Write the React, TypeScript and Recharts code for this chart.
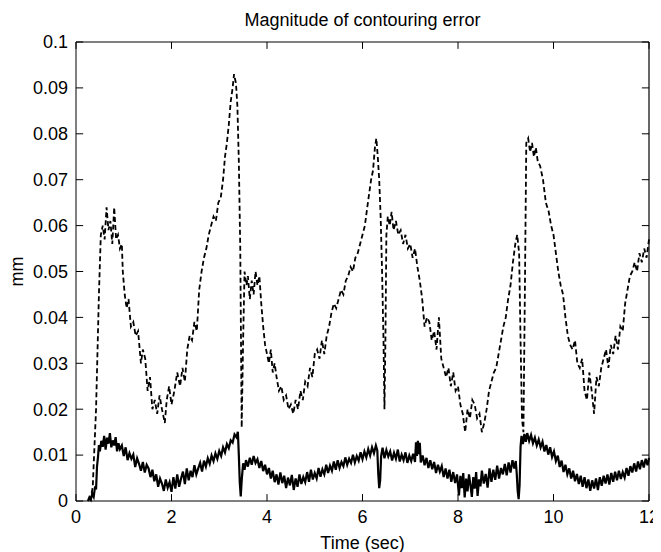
import { LineChart, Line, XAxis, YAxis, ReferenceLine } from "recharts";

// time (sec) -> contouring error (mm)
const dashedTrace: [number, number][] = [
  [0.3, 0], [0.35, 0.003], [0.42, 0.02], [0.48, 0.045], [0.52, 0.058], [0.56, 0.06], [0.6, 0.057], [0.64, 0.064],
  [0.68, 0.059], [0.72, 0.061], [0.76, 0.056], [0.8, 0.064], [0.84, 0.057], [0.88, 0.058], [0.92, 0.055], [0.96, 0.056],
  [0.98, 0.05], [1.02, 0.045], [1.06, 0.042], [1.1, 0.044], [1.15, 0.038], [1.2, 0.039], [1.25, 0.036], [1.3, 0.037],
  [1.36, 0.03], [1.4, 0.033], [1.45, 0.031], [1.5, 0.024], [1.55, 0.027], [1.6, 0.02], [1.65, 0.022], [1.7, 0.019],
  [1.75, 0.023], [1.8, 0.02], [1.86, 0.017], [1.9, 0.022], [1.95, 0.025], [2.0, 0.021], [2.06, 0.024], [2.12, 0.028],
  [2.18, 0.025], [2.23, 0.029], [2.28, 0.026], [2.33, 0.033], [2.38, 0.036], [2.43, 0.035], [2.48, 0.039], [2.53, 0.037],
  [2.58, 0.046], [2.63, 0.05], [2.68, 0.053], [2.73, 0.055], [2.78, 0.058], [2.83, 0.06], [2.88, 0.062], [2.93, 0.061],
  [2.98, 0.065], [3.03, 0.066], [3.08, 0.07], [3.12, 0.075], [3.16, 0.078], [3.2, 0.082], [3.24, 0.087], [3.28, 0.09],
  [3.31, 0.093], [3.35, 0.091], [3.38, 0.086], [3.41, 0.074], [3.44, 0.055], [3.47, 0.016], [3.5, 0.035], [3.53, 0.05],
  [3.57, 0.047], [3.6, 0.049], [3.64, 0.044], [3.68, 0.048], [3.72, 0.045], [3.76, 0.05], [3.8, 0.047], [3.84, 0.049],
  [3.88, 0.043], [3.92, 0.038], [3.96, 0.034], [4.0, 0.032], [4.04, 0.03], [4.08, 0.033], [4.12, 0.028], [4.16, 0.03],
  [4.2, 0.027], [4.25, 0.024], [4.3, 0.025], [4.35, 0.022], [4.4, 0.023], [4.45, 0.02], [4.5, 0.021], [4.55, 0.019],
  [4.6, 0.022], [4.65, 0.02], [4.7, 0.024], [4.75, 0.022], [4.8, 0.026], [4.85, 0.025], [4.9, 0.029], [4.95, 0.027],
  [5.0, 0.032], [5.05, 0.033], [5.1, 0.031], [5.15, 0.035], [5.2, 0.032], [5.25, 0.036], [5.3, 0.038], [5.35, 0.041],
  [5.4, 0.043], [5.45, 0.042], [5.5, 0.044], [5.55, 0.046], [5.6, 0.045], [5.65, 0.048], [5.7, 0.049], [5.75, 0.051],
  [5.8, 0.05], [5.85, 0.053], [5.9, 0.054], [5.95, 0.056], [6.0, 0.058], [6.05, 0.06], [6.1, 0.064], [6.14, 0.067],
  [6.18, 0.07], [6.22, 0.072], [6.26, 0.077], [6.29, 0.079], [6.32, 0.075], [6.35, 0.07], [6.38, 0.062], [6.41, 0.05],
  [6.44, 0.035], [6.46, 0.02], [6.48, 0.035], [6.5, 0.058], [6.53, 0.062], [6.57, 0.06], [6.61, 0.063], [6.65, 0.059],
  [6.7, 0.061], [6.75, 0.058], [6.8, 0.059], [6.85, 0.056], [6.9, 0.058], [6.95, 0.055], [7.0, 0.056], [7.05, 0.053],
  [7.1, 0.055], [7.15, 0.051], [7.2, 0.048], [7.25, 0.044], [7.3, 0.038], [7.35, 0.04], [7.4, 0.039], [7.45, 0.035],
  [7.5, 0.037], [7.55, 0.033], [7.6, 0.04], [7.65, 0.031], [7.7, 0.029], [7.75, 0.027], [7.8, 0.029], [7.85, 0.025],
  [7.9, 0.028], [7.95, 0.024], [8.0, 0.025], [8.05, 0.021], [8.1, 0.019], [8.15, 0.015], [8.2, 0.02], [8.25, 0.018],
  [8.3, 0.022], [8.35, 0.021], [8.4, 0.018], [8.45, 0.019], [8.5, 0.015], [8.55, 0.017], [8.6, 0.02], [8.65, 0.024],
  [8.7, 0.026], [8.75, 0.028], [8.8, 0.029], [8.85, 0.032], [8.9, 0.035], [8.95, 0.038], [9.0, 0.04], [9.05, 0.044],
  [9.1, 0.047], [9.15, 0.052], [9.2, 0.056], [9.24, 0.058], [9.28, 0.054], [9.31, 0.035], [9.34, 0.018], [9.37, 0.015],
  [9.4, 0.045], [9.43, 0.078], [9.47, 0.079], [9.51, 0.076], [9.55, 0.078], [9.59, 0.075], [9.63, 0.077], [9.67, 0.074],
  [9.72, 0.073], [9.78, 0.07], [9.84, 0.065], [9.9, 0.063], [9.95, 0.06], [10.0, 0.058], [10.05, 0.054], [10.1, 0.05],
  [10.15, 0.047], [10.2, 0.045], [10.25, 0.04], [10.3, 0.036], [10.35, 0.034], [10.4, 0.033], [10.45, 0.035], [10.5, 0.03],
  [10.55, 0.029], [10.6, 0.031], [10.65, 0.024], [10.7, 0.022], [10.75, 0.028], [10.8, 0.024], [10.85, 0.019], [10.9, 0.027],
  [10.95, 0.025], [11.0, 0.029], [11.05, 0.031], [11.1, 0.033], [11.15, 0.029], [11.2, 0.034], [11.25, 0.032], [11.3, 0.036],
  [11.35, 0.033], [11.4, 0.038], [11.45, 0.037], [11.5, 0.043], [11.55, 0.046], [11.6, 0.049], [11.65, 0.05], [11.7, 0.052],
  [11.75, 0.05], [11.8, 0.054], [11.85, 0.052], [11.9, 0.055], [11.95, 0.053], [12.0, 0.057],
];

const solidTrace: [number, number][] = [
  [0.25, 0], [0.28, 0.0008], [0.31, 0.0003], [0.34, 0.0016], [0.37, 0.0009], [0.4, 0.0032], [0.42, 0.0025], [0.44, 0.0075],
  [0.46, 0.0095], [0.48, 0.0122], [0.5, 0.0108], [0.53, 0.0131], [0.56, 0.0118], [0.59, 0.0142], [0.62, 0.0112], [0.65, 0.0138],
  [0.68, 0.0125], [0.71, 0.0148], [0.74, 0.0117], [0.77, 0.0132], [0.8, 0.0121], [0.83, 0.0139], [0.86, 0.0108], [0.89, 0.0126],
  [0.92, 0.0113], [0.96, 0.0121], [1.0, 0.0098], [1.04, 0.0117], [1.08, 0.0089], [1.12, 0.0104], [1.16, 0.0092], [1.2, 0.0101],
  [1.24, 0.0074], [1.28, 0.0093], [1.32, 0.0081], [1.36, 0.0066], [1.4, 0.0085], [1.44, 0.0062], [1.48, 0.0079], [1.52, 0.0071],
  [1.56, 0.0052], [1.6, 0.0068], [1.64, 0.0043], [1.68, 0.0058], [1.72, 0.0031], [1.76, 0.0049], [1.8, 0.0038], [1.84, 0.0022],
  [1.88, 0.0047], [1.92, 0.0029], [1.96, 0.0041], [2.0, 0.002], [2.04, 0.0052], [2.08, 0.0027], [2.12, 0.0058], [2.16, 0.0031],
  [2.2, 0.0049], [2.24, 0.0064], [2.28, 0.0037], [2.32, 0.0071], [2.36, 0.0045], [2.4, 0.0066], [2.44, 0.0052], [2.48, 0.0078],
  [2.52, 0.0058], [2.56, 0.0071], [2.6, 0.0083], [2.64, 0.0064], [2.68, 0.0088], [2.72, 0.0075], [2.76, 0.0093], [2.8, 0.0081],
  [2.84, 0.0099], [2.88, 0.0087], [2.92, 0.0104], [2.96, 0.0092], [3.0, 0.0109], [3.04, 0.0098], [3.08, 0.0117], [3.12, 0.0106],
  [3.16, 0.0124], [3.2, 0.0115], [3.24, 0.0132], [3.28, 0.0127], [3.32, 0.0145], [3.36, 0.0139], [3.39, 0.0151], [3.41, 0.01],
  [3.43, 0.004], [3.45, 0.001], [3.47, 0.0045], [3.5, 0.0082], [3.53, 0.0068], [3.56, 0.0089], [3.6, 0.0075], [3.64, 0.0094],
  [3.68, 0.0079], [3.72, 0.0098], [3.76, 0.0083], [3.8, 0.0091], [3.84, 0.0072], [3.88, 0.0087], [3.92, 0.0065], [3.96, 0.0079],
  [4.0, 0.0058], [4.04, 0.0072], [4.08, 0.0049], [4.12, 0.0066], [4.16, 0.0041], [4.2, 0.0058], [4.24, 0.0036], [4.28, 0.0062],
  [4.32, 0.0039], [4.36, 0.0055], [4.4, 0.0028], [4.44, 0.0051], [4.48, 0.0034], [4.52, 0.0057], [4.56, 0.0024], [4.6, 0.0049],
  [4.64, 0.0031], [4.68, 0.0058], [4.72, 0.0037], [4.76, 0.0052], [4.8, 0.0041], [4.84, 0.0063], [4.88, 0.0042], [4.92, 0.0068],
  [4.96, 0.0047], [5.0, 0.0061], [5.04, 0.0049], [5.08, 0.0072], [5.12, 0.0053], [5.16, 0.0069], [5.2, 0.0058], [5.24, 0.0079],
  [5.28, 0.0061], [5.32, 0.0077], [5.36, 0.0066], [5.4, 0.0086], [5.44, 0.0068], [5.48, 0.0089], [5.52, 0.0072], [5.56, 0.0085],
  [5.6, 0.0076], [5.64, 0.0095], [5.68, 0.0079], [5.72, 0.0092], [5.76, 0.0083], [5.8, 0.0101], [5.84, 0.0084], [5.88, 0.0098],
  [5.92, 0.0088], [5.96, 0.0106], [6.0, 0.0091], [6.04, 0.0108], [6.08, 0.0095], [6.12, 0.0113], [6.16, 0.0099], [6.2, 0.0117],
  [6.24, 0.0104], [6.28, 0.0121], [6.31, 0.011], [6.33, 0.006], [6.35, 0.0028], [6.37, 0.0045], [6.39, 0.0098], [6.42, 0.0116],
  [6.46, 0.0093], [6.5, 0.0111], [6.54, 0.0097], [6.58, 0.0108], [6.62, 0.0088], [6.66, 0.0105], [6.7, 0.0092], [6.74, 0.0112],
  [6.78, 0.0086], [6.82, 0.0101], [6.86, 0.0089], [6.9, 0.0106], [6.94, 0.0083], [6.98, 0.0099], [7.02, 0.0087], [7.06, 0.0103],
  [7.1, 0.0085], [7.12, 0.0128], [7.14, 0.0098], [7.16, 0.0131], [7.18, 0.0102], [7.2, 0.0127], [7.22, 0.0084], [7.26, 0.0099],
  [7.3, 0.0078], [7.34, 0.0094], [7.38, 0.0072], [7.42, 0.0089], [7.46, 0.0069], [7.5, 0.0085], [7.54, 0.0061], [7.58, 0.0079],
  [7.62, 0.0064], [7.66, 0.0076], [7.7, 0.0052], [7.74, 0.0071], [7.78, 0.0049], [7.82, 0.0068], [7.86, 0.0042], [7.9, 0.0063],
  [7.94, 0.0039], [7.98, 0.0058], [8.02, 0.0012], [8.05, 0.0055], [8.08, 0.0028], [8.11, 0.0061], [8.14, 0.0008], [8.17, 0.0049],
  [8.2, 0.0021], [8.23, 0.0058], [8.26, 0.0035], [8.29, 0.0009], [8.32, 0.0052], [8.35, 0.0027], [8.38, 0.0063], [8.41, 0.0011],
  [8.44, 0.0047], [8.47, 0.0032], [8.5, 0.0066], [8.54, 0.0038], [8.58, 0.0059], [8.62, 0.0029], [8.66, 0.0071], [8.7, 0.0042],
  [8.74, 0.0068], [8.78, 0.0046], [8.82, 0.0077], [8.86, 0.0049], [8.9, 0.0072], [8.94, 0.0058], [8.98, 0.0081], [9.02, 0.0056],
  [9.06, 0.0084], [9.1, 0.0062], [9.14, 0.0089], [9.18, 0.0071], [9.21, 0.0087], [9.23, 0.006], [9.25, 0.0022], [9.27, 0.0004],
  [9.29, 0.0035], [9.31, 0.0118], [9.33, 0.0142], [9.36, 0.0124], [9.39, 0.0146], [9.42, 0.0129], [9.45, 0.0148], [9.49, 0.0131],
  [9.53, 0.0144], [9.57, 0.0126], [9.61, 0.0138], [9.65, 0.0121], [9.69, 0.0134], [9.73, 0.0117], [9.77, 0.0129], [9.81, 0.0108],
  [9.85, 0.0122], [9.89, 0.0101], [9.93, 0.0117], [9.97, 0.0096], [10.01, 0.0108], [10.05, 0.0087], [10.09, 0.0099], [10.13, 0.0074],
  [10.17, 0.0088], [10.21, 0.0063], [10.25, 0.0079], [10.29, 0.0058], [10.33, 0.0071], [10.37, 0.0049], [10.41, 0.0066], [10.45, 0.0043],
  [10.49, 0.0059], [10.53, 0.0037], [10.57, 0.0055], [10.61, 0.0031], [10.65, 0.0052], [10.69, 0.0028], [10.73, 0.0047], [10.77, 0.0022],
  [10.81, 0.0045], [10.85, 0.0027], [10.89, 0.0049], [10.93, 0.0024], [10.97, 0.0052], [11.01, 0.0033], [11.05, 0.0055], [11.09, 0.0038],
  [11.13, 0.0058], [11.17, 0.0036], [11.21, 0.0061], [11.25, 0.0042], [11.29, 0.0064], [11.33, 0.0045], [11.37, 0.0066], [11.41, 0.0048],
  [11.45, 0.0063], [11.49, 0.0051], [11.53, 0.0072], [11.57, 0.0055], [11.61, 0.0076], [11.65, 0.0062], [11.69, 0.0082], [11.73, 0.0064],
  [11.77, 0.0086], [11.81, 0.0069], [11.85, 0.0089], [11.89, 0.0073], [11.93, 0.0092], [11.97, 0.0078], [12.0, 0.0094],
];

const xTicks = [0, 2, 4, 6, 8, 10, 12];
const yTicks = [0, 0.01, 0.02, 0.03, 0.04, 0.05, 0.06, 0.07, 0.08, 0.09, 0.1];

const toRows = (trace: [number, number][]) => trace.map(([t, v]) => ({ t, v }));

const FONT = "'Liberation Sans', Arial, sans-serif";
// inward tick length, in data units (~7px)
const TICK_X = 0.15;
const TICK_Y = 0.0015;

function YLabel({ viewBox }: any) {
  const x = viewBox.x + 15;
  const y = viewBox.y + viewBox.height / 2;
  return (
    <text x={x} y={y} transform={`rotate(-90, ${x}, ${y})`} textAnchor="middle" fontSize={18} fill="#000" fontFamily={FONT}>
      mm
    </text>
  );
}

export default function App() {
  return (
    <div style={{ position: "relative", width: 653, height: 544, fontFamily: FONT, background: "#fff" }}>
      <div
        style={{
          position: "absolute",
          top: 2,
          left: 68,
          width: 573,
          textAlign: "center",
          fontSize: 18,
          lineHeight: "20px",
          color: "#000",
        }}
      >
        Magnitude of contouring error
      </div>
      <LineChart
        width={653}
        height={544}
        margin={{ top: 34, right: 12, bottom: 0, left: 0 }}
        style={{ overflow: "visible" }}
      >
        <XAxis
          type="number"
          dataKey="t"
          domain={[0, 12]}
          ticks={xTicks}
          height={51}
          tickLine={false}
          tickSize={0}
          tickMargin={9}
          stroke="#000"
          tick={{ fill: "#000", fontSize: 18, fontFamily: FONT }}
          label={{ value: "Time (sec)", position: "insideBottom", offset: 3, fill: "#000", fontSize: 18, fontFamily: FONT }}
        />
        <YAxis
          type="number"
          domain={[0, 0.1]}
          ticks={yTicks}
          width={68}
          tickLine={false}
          tickSize={0}
          tickMargin={8}
          stroke="#000"
          tick={{ fill: "#000", fontSize: 18, fontFamily: FONT }}
          label={<YLabel />}
        />
        <ReferenceLine y={0.1} stroke="#000" strokeWidth={1.2} />
        <ReferenceLine x={12} stroke="#000" strokeWidth={1.2} />
        {xTicks.map((t) => (
          <ReferenceLine key={`xb${t}`} segment={[{ x: t, y: 0 }, { x: t, y: TICK_Y }]} stroke="#000" />
        ))}
        {xTicks.map((t) => (
          <ReferenceLine key={`xt${t}`} segment={[{ x: t, y: 0.1 }, { x: t, y: 0.1 - TICK_Y }]} stroke="#000" />
        ))}
        {yTicks.map((v) => (
          <ReferenceLine key={`yl${v}`} segment={[{ x: 0, y: v }, { x: TICK_X, y: v }]} stroke="#000" />
        ))}
        {yTicks.map((v) => (
          <ReferenceLine key={`yr${v}`} segment={[{ x: 12, y: v }, { x: 12 - TICK_X, y: v }]} stroke="#000" />
        ))}
        <Line
          data={toRows(dashedTrace)}
          dataKey="v"
          type="linear"
          stroke="#000"
          strokeWidth={1.8}
          strokeDasharray="5 3"
          dot={false}
          isAnimationActive={false}
        />
        <Line
          data={toRows(solidTrace)}
          dataKey="v"
          type="linear"
          stroke="#000"
          strokeWidth={2.2}
          dot={false}
          isAnimationActive={false}
        />
      </LineChart>
    </div>
  );
}
